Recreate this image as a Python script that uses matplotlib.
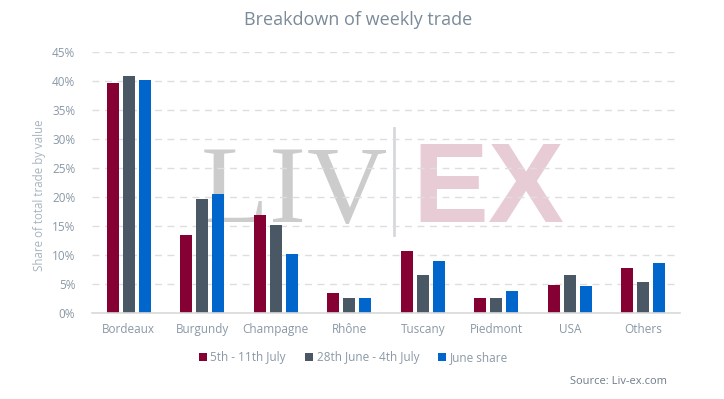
import numpy as np
import matplotlib
matplotlib.use("Agg")
import matplotlib.pyplot as plt
from matplotlib.ticker import FuncFormatter

regions = ["Bordeaux", "Burgundy", "Champagne", "Rhône", "Tuscany", "Piedmont", "USA", "Others"]
week_5_11_july = [39.7, 13.4, 16.9, 3.5, 10.7, 2.6, 4.8, 7.8]
week_28jun_4jul = [40.9, 19.7, 15.2, 2.6, 6.6, 2.6, 6.6, 5.4]
june_share = [40.2, 20.5, 10.2, 2.6, 9.0, 3.8, 4.7, 8.6]
series_names = ["5th - 11th July", "28th June - 4th July", "June share"]
colors = ["#850033", "#4a5764", "#0066cc"]

text_col = "#8a98a6"
plt.rcParams['font.family'] = ['Open Sans', 'DejaVu Sans']

fig = plt.figure(figsize=(7.24, 3.99), dpi=100)
ax = fig.add_axes([92 / 724, 86 / 399, 588 / 724, 261 / 399])
ax.set_facecolor("none")

x = np.arange(len(regions))
w = 0.165
off = 0.22
for i, vals in enumerate([week_5_11_july, week_28jun_4jul, june_share]):
    ax.bar(x + (i - 1) * off, vals, width=w, color=colors[i], label=series_names[i], zorder=3)

ax.set_xlim(-0.5, len(regions) - 0.5)
ax.set_ylim(0, 45)
ax.set_yticks(np.arange(0, 46, 5))
ax.yaxis.set_major_formatter(FuncFormatter(lambda v, p: f"{v:.0f}%"))
ax.set_xticks(x)
ax.set_xticklabels(regions)
ax.tick_params(axis="both", length=0, labelsize=8.5, labelcolor=text_col)
ax.tick_params(axis="y", pad=12)
ax.tick_params(axis="x", pad=7)
ax.grid(axis="y", color="#dedede", linestyle=(0, (5, 4)), linewidth=1, zorder=1)
for s in ["top", "right", "left"]:
    ax.spines[s].set_visible(False)
ax.spines["bottom"].set_color("#d9d9d9")
ax.spines["bottom"].set_linewidth(1.2)
ax.spines["bottom"].set_zorder(4)

ax.set_ylabel("Share of total trade by value", fontsize=8.3, color="#a8b3be")
ax.yaxis.set_label_coords(-0.078, 0.45)

# watermark
for letter, xc in zip("LIV", [0.243, 0.332, 0.433]):
    ax.text(xc, 0.349, letter, transform=ax.transAxes, ha="center", va="baseline",
            fontsize=80, family="Liberation Serif", color="#cccccc", zorder=0.5)
ax.plot([0.514, 0.514], [0.299, 0.71], transform=ax.transAxes, color="#d6d9dc", lw=2, zorder=0.5)
ax.text(0.545, 0.349, "EX", transform=ax.transAxes, ha="left", va="baseline",
        fontsize=82, family="Liberation Sans", fontweight="bold", color="#e8ccd5", zorder=0.5)

fig.text(0.495, 0.95, "Breakdown of weekly trade", ha="center", va="center",
         fontsize=13, color="#7b8a99")

leg = fig.legend(loc="center", bbox_to_anchor=(0.488, 0.103), ncol=3, frameon=False,
                 fontsize=8.5, handlelength=0.7, handleheight=0.7, handletextpad=0.3,
                 columnspacing=1.6, labelcolor=text_col)

fig.text(667 / 724, 1 - 382 / 399, "Source: Liv-ex.com", ha="right", va="center",
         fontsize=8, color="#6f7c88")

fig.savefig("out.png", dpi=100)
